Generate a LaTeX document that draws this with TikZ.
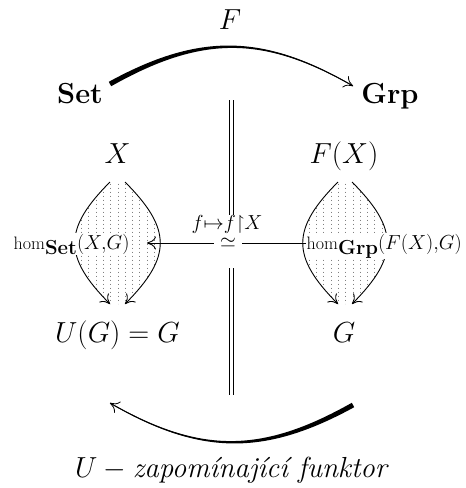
\RequirePackage{fix-cm}
\documentclass[tikz,border=0pt]{standalone}
\usepackage{amsmath,amssymb}
\usetikzlibrary{arrows.meta,bending}
\newcommand{\homsz}{\fontsize{18}{20}\selectfont}
\newcommand{\bigsz}{\fontsize{29}{35}\selectfont}
\begin{document}
\begin{tikzpicture}[x=1pt,y=-1pt,
  big/.style={font=\bigsz, inner sep=0pt},
  tipcm/.style={-{Computer Modern Rightarrow[length=9pt,width=13pt,bend]}},
  cell/.style={line width=0.9pt, tipcm},
  dotcol/.style={black!50, line width=0.9pt, dash pattern=on 0.9pt off 3.1pt},
  hlab/.style={fill=white, inner xsep=0.5pt, inner ysep=1pt},
  dbl/.style={double, line width=0.8pt, double distance=3.2pt}]
\useasboundingbox (0,0) rectangle (466,488);

% text nodes
\node[big,anchor=base] (F)  at (230,29)  {$F$};
\node[big,anchor=base] (set) at (80,103) {$\mathbf{Set}$};
\node[big,anchor=base] (grp) at (390,103) {$\mathbf{Grp}$};
\node[big,anchor=base] (X)  at (117.5,163) {$X$};
\node[big,anchor=base] (FX) at (344,163) {$F(X)$};
\node[big,anchor=base] (UG) at (117.5,342) {$U(G)=G$};
\node[big,anchor=base] (G)  at (344,342) {$G$};
\node[big,anchor=base] (Ulab) at (231,477) {$U - \textit{zapomínající funktor}$};

% top tapered arc F
\coordinate (ts) at (110,84);
\coordinate (te) at (353,86);
\fill (108.8,81.8) .. controls (199.1,32.4) and (263.4,33.3) .. (353.2,85.65)
   -- (352.8,86.35) .. controls (262.6,34.7) and (200.9,35.6) .. (111.2,86.2) -- cycle;
\draw[line width=0.8pt, tipcm] (ts) .. controls (200,34) and (263,34) .. (te);

% bottom tapered arc U (rotated copy)
\begin{scope}[rotate around={180:(231.5,244.5)}]
\coordinate (bs) at (110,84);
\coordinate (be) at (353,86);
\fill (108.8,81.8) .. controls (199.1,32.4) and (263.4,33.3) .. (353.2,85.65)
   -- (352.8,86.35) .. controls (262.6,34.7) and (200.9,35.6) .. (111.2,86.2) -- cycle;
\draw[line width=0.8pt, tipcm] (bs) .. controls (200,34) and (263,34) .. (be);
\end{scope}

% double vertical line
\coordinate (d1) at (231.3,100);
\coordinate (d2) at (231.3,215);
\coordinate (d3) at (231.3,268);
\coordinate (d4) at (231.3,395);
\draw[dbl] (d1) -- (d2);
\draw[dbl] (d3) -- (d4);

% left lens
\coordinate (la) at (110,182); \coordinate (lb) at (110,304);
\coordinate (lc) at (125,182); \coordinate (ld) at (125,304);
\begin{scope}
\clip (la) .. controls (63,229) and (63,257) .. (lb) -- (ld)
   .. controls (172,257) and (172,229) .. (lc) -- cycle;
\foreach \i in {-6,...,7} \draw[dotcol] ({110.7+7.3*\i},179.5) -- ++(0,130);
\end{scope}
\draw[cell] (la) .. controls (63,229) and (63,257) .. (lb);
\draw[cell] (lc) .. controls (172,229) and (172,257) .. (ld);

% right lens
\coordinate (ra) at (338,182); \coordinate (rb) at (338,304);
\coordinate (rc) at (352,182); \coordinate (rd) at (352,304);
\begin{scope}
\clip (ra) .. controls (291,229) and (291,257) .. (rb) -- (rd)
   .. controls (399,257) and (399,229) .. (rc) -- cycle;
\foreach \i in {-6,...,7} \draw[dotcol] ({338.4+7.3*\i},179.5) -- ++(0,130);
\end{scope}
\draw[cell] (ra) .. controls (291,229) and (291,257) .. (rb);
\draw[cell] (rc) .. controls (399,229) and (399,257) .. (rd);

% hom labels
\node[hlab, anchor=base west] (hs) at (13,249)
  {{\homsz hom}\raisebox{-5pt}{\bigsz$\scriptstyle\mathbf{Set}$}{\bigsz$\scriptstyle(X,G)$}};
\node[hlab, anchor=base west] (hg) at (306,249)
  {{\homsz hom}\raisebox{-5pt}{\bigsz$\scriptstyle\mathbf{Grp}$}{\bigsz$\scriptstyle(F(X),G)$}};

% horizontal isomorphism arrow
\coordinate (ha) at (hg.west |- 0,243);
\coordinate (hb) at (147,243);
\draw[line width=0.9pt, tipcm] (ha) -- node[pos=0.49, font=\bigsz, fill=white, inner xsep=6.5pt, inner ysep=0pt] (iso) {$\scriptstyle\simeq$} (hb);
\node[anchor=base, font=\bigsz, inner sep=0pt] (fl) at (227,229.5) {$\scriptstyle f\mapsto f\restriction X$};
\end{tikzpicture}
\end{document}
